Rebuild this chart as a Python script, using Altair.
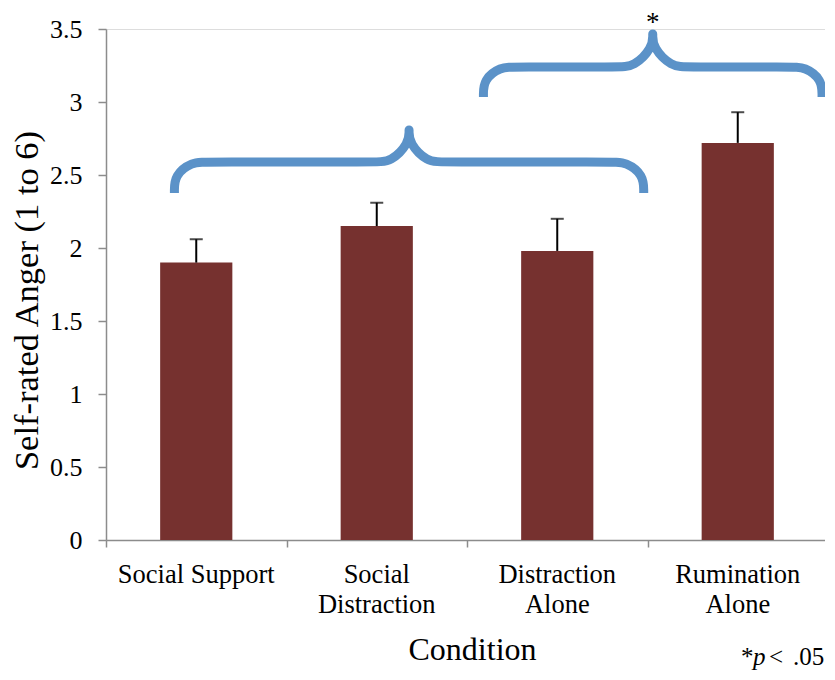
import altair as alt
import pandas as pd

# ---- data ----
conditions = ["Social Support", "Social Distraction", "Distraction Alone", "Rumination Alone"]
label_text = ["Social Support", "Social|Distraction", "Distraction|Alone", "Rumination|Alone"]
means = [1.90, 2.15, 1.98, 2.72]
err_upper = [2.06, 2.31, 2.20, 2.93]
y_ticks = [0, 0.5, 1, 1.5, 2, 2.5, 3, 3.5]

# brace control polygons (x in category units 0..4, y in data units), drawn with a basis curve
brace1_x = [0.379, 0.379, 0.479, 0.549, 1.503, 1.576, 1.679, 1.679, 1.679, 1.679, 1.679, 1.782, 1.855, 2.809, 2.879, 2.979, 2.979]
brace1_y = [2.377, 2.501, 2.589, 2.589, 2.589, 2.589, 2.717, 2.808, 2.808, 2.808, 2.717, 2.589, 2.589, 2.589, 2.589, 2.501, 2.377]
brace2_x = [2.091, 2.091, 2.188, 2.256, 2.848, 2.923, 3.029, 3.029, 3.029, 3.029, 3.029, 3.135, 3.210, 3.802, 3.870, 3.967, 3.967]
brace2_y = [3.034, 3.155, 3.240, 3.240, 3.240, 3.240, 3.372, 3.466, 3.466, 3.466, 3.372, 3.240, 3.240, 3.240, 3.240, 3.155, 3.034]
star_text = "*"
star_pos = (3.029, 3.466)

foot_parts = ["*", "p", "<", ".05"]
foot_styles = ["normal", "italic", "normal", "normal"]
foot_x = [635, 647, 663, 687]

FONT = "Liberation Serif, Times New Roman, Times, serif"
BAR_COLOR = "#76312F"
BRACE_COLOR = "#5B92C8"
AXIS_GRAY = "#8C8C8C"
BAR_HALF = 0.2    # half of bar width, in category units
CAP_PX = 13
W, H = 722, 511

n = len(conditions)
bars_df = pd.DataFrame({
    "cond": conditions,
    "label": label_text,
    "mean": means,
    "upper": err_upper,
    "center": [i + 0.5 for i in range(n)],
})
bars_df["lo"] = bars_df["center"] - BAR_HALF
bars_df["hi"] = bars_df["center"] + BAR_HALF

brace_rows = []
for name, xs, ys in [("b1", brace1_x, brace1_y), ("b2", brace2_x, brace2_y)]:
    for i, (u, v) in enumerate(zip(xs, ys)):
        brace_rows.append({"brace": name, "i": i, "u": u, "v": v})
brace_df = pd.DataFrame(brace_rows)
star_df = pd.DataFrame({"u": [star_pos[0]], "v": [star_pos[1]], "t": [star_text]})

xscale = alt.Scale(domain=[0, n], nice=False, zero=False, padding=0)
yscale = alt.Scale(domain=[0, 3.5], nice=False, zero=True, padding=0)

x_axis = alt.Axis(
    values=list(range(n + 1)), labels=False,
    title="Condition", titleFont=FONT, titleFontSize=32, titleFontWeight="normal", titleColor="black",
    titleX=366, titleY=119, titleAlign="center", titleBaseline="alphabetic",
    tickSize=7, tickColor=AXIS_GRAY, tickWidth=1.5,
    domainColor=AXIS_GRAY, domainWidth=1.5, grid=False,
)
y_axis = alt.Axis(
    values=y_ticks, format="~g", grid=False,
    title="Self-rated Anger (1 to 6)", titleFont=FONT, titleFontSize=34.5, titleFontWeight="normal",
    titleColor="black", titleX=-69, titleY=271, titleBaseline="alphabetic", titleAlign="center",
    labelFont=FONT, labelFontSize=26, labelColor="black", labelPadding=16,
    tickSize=8, tickColor=AXIS_GRAY, tickWidth=1.5, domainColor=AXIS_GRAY, domainWidth=1.5,
)

base = alt.Chart(bars_df)
bars = base.mark_bar(color=BAR_COLOR).encode(
    x=alt.X("lo:Q", scale=xscale, axis=x_axis), x2="hi:Q",
    y=alt.Y("mean:Q", scale=yscale, axis=y_axis), y2=alt.datum(0),
)
err = base.mark_rule(color="black", strokeWidth=2).encode(
    x=alt.X("center:Q", scale=xscale), y=alt.Y("mean:Q", scale=yscale), y2="upper:Q"
)
caps = base.mark_tick(color="black", thickness=2, size=CAP_PX, orient="horizontal").encode(
    x=alt.X("center:Q", scale=xscale), y=alt.Y("upper:Q", scale=yscale)
)
xlabels = base.mark_text(
    font=FONT, fontSize=26.5, lineBreak="|", lineHeight=30, baseline="top", align="center", color="black"
).encode(x=alt.X("center:Q", scale=xscale), y=alt.value(H + 22), text="label:N")

braces = alt.Chart(brace_df).mark_line(
    interpolate="basis", color=BRACE_COLOR, strokeWidth=9, strokeCap="butt", strokeJoin="round"
).encode(
    x=alt.X("u:Q", scale=xscale),
    y=alt.Y("v:Q", scale=yscale),
    detail="brace:N",
    order=alt.Order("i:Q"),
)
star = alt.Chart(star_df).mark_text(
    font=FONT, fontSize=27, baseline="alphabetic", align="center", dy=-3, color="black"
).encode(x=alt.X("u:Q", scale=xscale), y=alt.Y("v:Q", scale=yscale), text="t:N")

foot_layers = []
for t, st, px in zip(foot_parts, foot_styles, foot_x):
    foot_layers.append(
        alt.Chart(pd.DataFrame({"t": [t]})).mark_text(
            font=FONT, fontSize=25, fontStyle=st, align="left", baseline="alphabetic", color="black"
        ).encode(text="t:N", x=alt.value(px), y=alt.value(636))
    )

chart = alt.layer(bars, err, caps, xlabels, braces, star, *foot_layers).properties(
    width=W, height=H,
    autosize=alt.AutoSizeParams(type="none"),
    padding={"left": 98, "top": 21, "right": -3, "bottom": 131},
).configure_view(stroke=None).configure(font=FONT)

chart.save("out.html", embed_options={"renderer": "svg", "actions": False})
